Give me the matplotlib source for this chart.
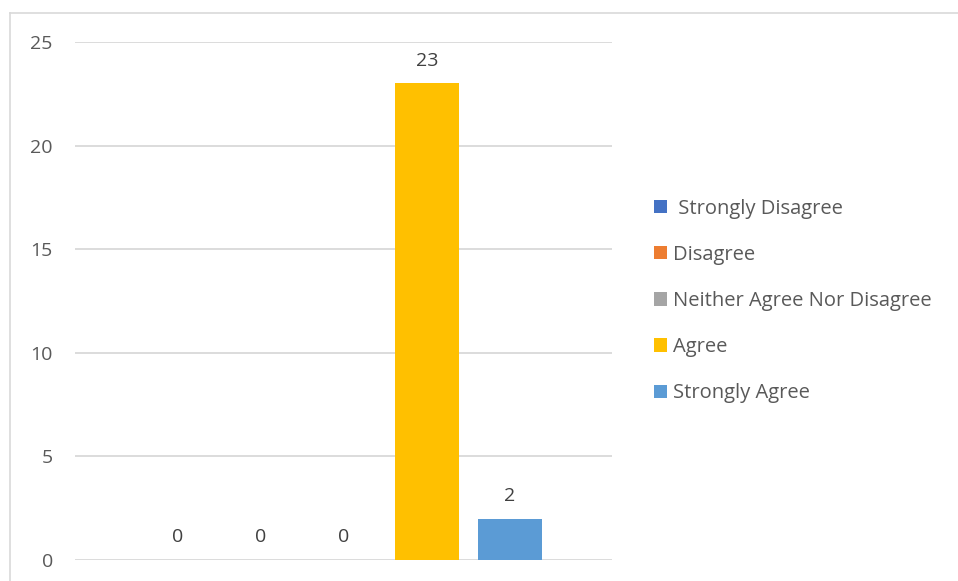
import matplotlib.pyplot as plt
from matplotlib.lines import Line2D
import numpy as np

plt.rcParams['font.family'] = ['Open Sans', 'DejaVu Sans']

# data
series = [' Strongly Disagree', 'Disagree', 'Neither Agree Nor Disagree', 'Agree', 'Strongly Agree']
values = [0, 0, 0, 23, 2]
colors = ['#4472C4', '#ED7D31', '#A5A5A5', '#FFC000', '#5B9BD5']
yticks = [0, 5, 10, 15, 20, 25]

text_color = '#595959'
grid_color = '#D9D9D9'

fig = plt.figure(figsize=(9.58, 5.81), dpi=100)
ax = fig.add_axes([0.0783, 0.0361, 0.5605, 0.8916])

x = np.arange(len(values))
for i in range(len(values)):
    b = ax.bar(x[i], values[i], width=0.78, color=colors[i], label=series[i], zorder=3)
    ax.bar_label(b, labels=[str(values[i])], padding=10, fontsize=14, color='#404040')

ax.set_xlim(-1.24, 5.23)
ax.set_ylim(0, 25)
ax.set_yticks(yticks)
ax.set_xticks([])
ax.yaxis.grid(True, color=grid_color, linewidth=1.3, zorder=0)
for s in ax.spines.values():
    s.set_visible(False)
ax.tick_params(axis='y', length=0, pad=16, labelsize=14, labelcolor=text_color)

leg = ax.legend(loc='center left', bbox_to_anchor=(1.045, 0.50), frameon=False,
                fontsize=14.5, handlelength=0.65, handleheight=0.65, handletextpad=0.3,
                labelspacing=1.3, labelcolor=text_color)

# outer border (top and left)
fig.add_artist(Line2D([10 / 958, 1], [1 - 13 / 581, 1 - 13 / 581], color=grid_color, linewidth=1.2))
fig.add_artist(Line2D([10 / 958, 10 / 958], [0, 1 - 13 / 581], color=grid_color, linewidth=1.2))

plt.savefig('out.png', dpi=100)
plt.close()
